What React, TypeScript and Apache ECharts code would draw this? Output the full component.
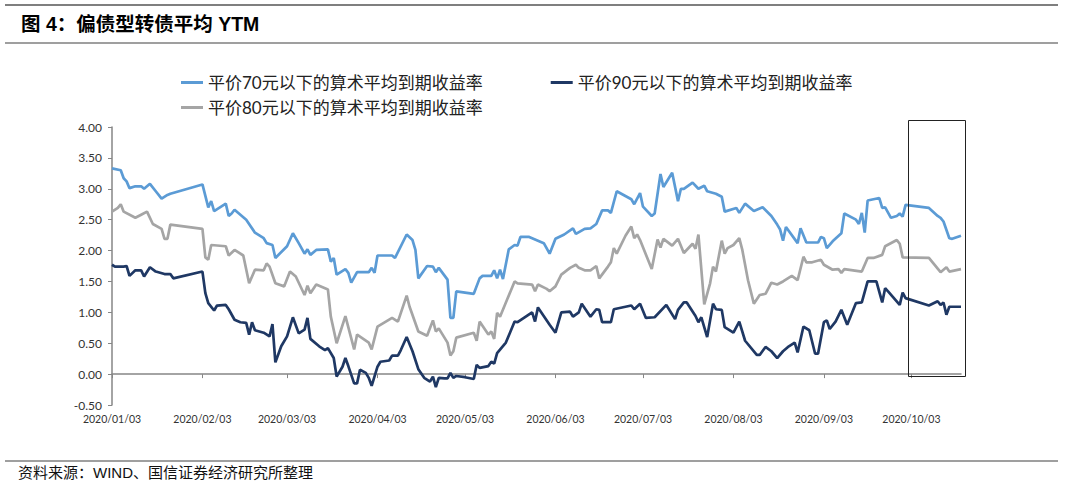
import React, { useEffect, useRef } from "react";
import * as echarts from "echarts";

const titleText = "图 4：偏债型转债平均 YTM";
const sourceText = "资料来源：WIND、国信证券经济研究所整理";

const seriesNames = [
  "平价70元以下的算术平均到期收益率",
  "平价90元以下的算术平均到期收益率",
  "平价80元以下的算术平均到期收益率",
];

const axisStart = "2020-01-03";
const axisEnd = "2020-10-20";
const tickDates = [
  "2020-01-03", "2020-02-03", "2020-03-03", "2020-04-03", "2020-05-03",
  "2020-06-03", "2020-07-03", "2020-08-03", "2020-09-03", "2020-10-03",
];
const yMin = -0.5;
const yMax = 4;
const yStep = 0.5;

const ytm70: [string, number][] = [
  ["2020-01-03", 3.33], ["2020-01-06", 3.30], ["2020-01-07", 3.17], ["2020-01-08", 3.12], ["2020-01-09", 3.01],
  ["2020-01-11", 3.04], ["2020-01-13", 3.04], ["2020-01-14", 3.00], ["2020-01-16", 3.08], ["2020-01-18", 2.96],
  ["2020-01-20", 2.84], ["2020-01-22", 2.90], ["2020-01-23", 2.92], ["2020-02-03", 3.07], ["2020-02-05", 2.70],
  ["2020-02-06", 2.80], ["2020-02-07", 2.64], ["2020-02-11", 2.76], ["2020-02-12", 2.56], ["2020-02-13", 2.60],
  ["2020-02-14", 2.66], ["2020-02-18", 2.50], ["2020-02-21", 2.29], ["2020-02-24", 2.20], ["2020-02-25", 2.12],
  ["2020-02-27", 2.09], ["2020-02-28", 1.88], ["2020-03-03", 2.07], ["2020-03-05", 2.28], ["2020-03-07", 2.12],
  ["2020-03-09", 1.95], ["2020-03-10", 2.02], ["2020-03-11", 1.93], ["2020-03-13", 2.01], ["2020-03-17", 2.02],
  ["2020-03-18", 1.82], ["2020-03-19", 1.88], ["2020-03-20", 1.61], ["2020-03-23", 1.70], ["2020-03-24", 1.64],
  ["2020-03-25", 1.48], ["2020-03-27", 1.65], ["2020-03-31", 1.65], ["2020-04-01", 1.72], ["2020-04-02", 1.64],
  ["2020-04-03", 1.92], ["2020-04-08", 1.92], ["2020-04-09", 1.88], ["2020-04-13", 2.26], ["2020-04-15", 2.17],
  ["2020-04-16", 2.01], ["2020-04-17", 1.55], ["2020-04-20", 1.75], ["2020-04-22", 1.74], ["2020-04-23", 1.65],
  ["2020-04-24", 1.72], ["2020-04-27", 1.53], ["2020-04-28", 0.91], ["2020-04-29", 0.91], ["2020-04-30", 1.34],
  ["2020-05-06", 1.30], ["2020-05-08", 1.55], ["2020-05-09", 1.59], ["2020-05-12", 1.59], ["2020-05-13", 1.68],
  ["2020-05-14", 1.55], ["2020-05-15", 1.69], ["2020-05-16", 1.54], ["2020-05-18", 2.02], ["2020-05-20", 2.09],
  ["2020-05-21", 2.08], ["2020-05-22", 2.22], ["2020-05-25", 2.22], ["2020-05-28", 2.16], ["2020-05-30", 2.12],
  ["2020-06-01", 1.95], ["2020-06-03", 2.19], ["2020-06-06", 2.26], ["2020-06-09", 2.36], ["2020-06-10", 2.27],
  ["2020-06-13", 2.35], ["2020-06-15", 2.36], ["2020-06-17", 2.43], ["2020-06-19", 2.65], ["2020-06-21", 2.65],
  ["2020-06-22", 2.61], ["2020-06-24", 2.96], ["2020-06-29", 2.83], ["2020-06-30", 2.75], ["2020-07-02", 2.93],
  ["2020-07-03", 2.71], ["2020-07-06", 2.56], ["2020-07-07", 2.60], ["2020-07-09", 3.24], ["2020-07-10", 3.03],
  ["2020-07-13", 3.26], ["2020-07-15", 2.80], ["2020-07-16", 3.00], ["2020-07-17", 3.00], ["2020-07-20", 3.10],
  ["2020-07-22", 3.00], ["2020-07-24", 3.05], ["2020-07-25", 2.96], ["2020-07-28", 2.92], ["2020-07-30", 2.87],
  ["2020-07-31", 2.63], ["2020-08-04", 2.69], ["2020-08-05", 2.61], ["2020-08-07", 2.76], ["2020-08-10", 2.64],
  ["2020-08-13", 2.70], ["2020-08-16", 2.56], ["2020-08-18", 2.42], ["2020-08-19", 2.34], ["2020-08-20", 2.16],
  ["2020-08-21", 2.38], ["2020-08-25", 2.12], ["2020-08-26", 2.36], ["2020-08-28", 2.13], ["2020-09-01", 2.13],
  ["2020-09-02", 2.22], ["2020-09-03", 2.20], ["2020-09-04", 2.04], ["2020-09-06", 2.15], ["2020-09-09", 2.28],
  ["2020-09-10", 2.60], ["2020-09-14", 2.50], ["2020-09-15", 2.43], ["2020-09-16", 2.61], ["2020-09-17", 2.29],
  ["2020-09-18", 2.81], ["2020-09-20", 2.83], ["2020-09-22", 2.85], ["2020-09-23", 2.69], ["2020-09-24", 2.70],
  ["2020-09-26", 2.53], ["2020-09-28", 2.56], ["2020-09-29", 2.60], ["2020-09-30", 2.55], ["2020-10-01", 2.74],
  ["2020-10-09", 2.69], ["2020-10-12", 2.56], ["2020-10-13", 2.53], ["2020-10-14", 2.47], ["2020-10-16", 2.20],
  ["2020-10-17", 2.19], ["2020-10-20", 2.24],
];

const ytm80: [string, number][] = [
  ["2020-01-03", 2.63], ["2020-01-05", 2.69], ["2020-01-06", 2.75], ["2020-01-07", 2.63], ["2020-01-11", 2.53],
  ["2020-01-13", 2.58], ["2020-01-15", 2.63], ["2020-01-17", 2.43], ["2020-01-20", 2.35], ["2020-01-21", 2.19],
  ["2020-01-22", 2.19], ["2020-01-23", 2.42], ["2020-02-03", 2.35], ["2020-02-04", 1.89], ["2020-02-05", 1.85],
  ["2020-02-06", 2.09], ["2020-02-11", 2.07], ["2020-02-12", 1.92], ["2020-02-14", 2.01], ["2020-02-17", 1.92],
  ["2020-02-19", 1.47], ["2020-02-21", 1.69], ["2020-02-24", 1.68], ["2020-02-25", 1.79], ["2020-02-26", 1.74],
  ["2020-02-28", 1.47], ["2020-03-02", 1.42], ["2020-03-04", 1.66], ["2020-03-06", 1.58], ["2020-03-09", 1.28],
  ["2020-03-10", 1.43], ["2020-03-11", 1.31], ["2020-03-13", 1.45], ["2020-03-17", 1.37], ["2020-03-18", 0.93],
  ["2020-03-20", 0.50], ["2020-03-23", 0.94], ["2020-03-26", 0.40], ["2020-03-27", 0.64], ["2020-03-31", 0.51],
  ["2020-04-01", 0.40], ["2020-04-03", 0.77], ["2020-04-08", 0.91], ["2020-04-10", 0.85], ["2020-04-13", 1.27],
  ["2020-04-14", 1.09], ["2020-04-17", 0.69], ["2020-04-20", 0.62], ["2020-04-22", 0.87], ["2020-04-23", 0.69],
  ["2020-04-24", 0.74], ["2020-04-27", 0.51], ["2020-04-28", 0.30], ["2020-04-29", 0.37], ["2020-04-30", 0.59],
  ["2020-05-06", 0.67], ["2020-05-07", 0.54], ["2020-05-08", 0.85], ["2020-05-11", 0.64], ["2020-05-12", 0.69],
  ["2020-05-13", 0.57], ["2020-05-14", 0.99], ["2020-05-15", 0.93], ["2020-05-20", 1.50], ["2020-05-21", 1.47],
  ["2020-05-26", 1.45], ["2020-05-27", 1.34], ["2020-05-28", 1.45], ["2020-05-31", 1.38], ["2020-06-01", 1.34],
  ["2020-06-03", 1.42], ["2020-06-05", 1.61], ["2020-06-08", 1.72], ["2020-06-10", 1.77], ["2020-06-11", 1.72],
  ["2020-06-13", 1.68], ["2020-06-15", 1.68], ["2020-06-17", 1.75], ["2020-06-18", 1.55], ["2020-06-21", 1.74],
  ["2020-06-22", 1.81], ["2020-06-23", 2.04], ["2020-06-24", 1.95], ["2020-06-27", 2.24], ["2020-06-29", 2.39],
  ["2020-06-30", 2.20], ["2020-07-01", 2.26], ["2020-07-02", 2.17], ["2020-07-06", 1.70], ["2020-07-08", 2.18],
  ["2020-07-09", 2.05], ["2020-07-10", 2.19], ["2020-07-13", 2.08], ["2020-07-15", 2.19], ["2020-07-17", 1.96],
  ["2020-07-20", 2.11], ["2020-07-21", 2.03], ["2020-07-22", 2.26], ["2020-07-24", 1.13], ["2020-07-26", 1.47],
  ["2020-07-27", 1.74], ["2020-07-28", 1.66], ["2020-07-30", 2.16], ["2020-07-31", 1.95], ["2020-08-01", 2.04],
  ["2020-08-03", 2.09], ["2020-08-05", 2.20], ["2020-08-06", 2.02], ["2020-08-08", 1.52], ["2020-08-10", 1.14],
  ["2020-08-12", 1.28], ["2020-08-14", 1.30], ["2020-08-16", 1.48], ["2020-08-18", 1.45], ["2020-08-20", 1.50],
  ["2020-08-23", 1.59], ["2020-08-25", 1.52], ["2020-08-27", 1.90], ["2020-08-28", 1.81], ["2020-08-30", 1.81],
  ["2020-09-02", 1.85], ["2020-09-03", 1.77], ["2020-09-06", 1.69], ["2020-09-08", 1.70], ["2020-09-09", 1.64],
  ["2020-09-10", 1.70], ["2020-09-16", 1.66], ["2020-09-18", 1.88], ["2020-09-20", 1.88], ["2020-09-23", 1.93],
  ["2020-09-24", 2.07], ["2020-09-28", 2.17], ["2020-09-29", 2.11], ["2020-09-30", 1.89], ["2020-10-09", 1.88],
  ["2020-10-13", 1.65], ["2020-10-15", 1.73], ["2020-10-16", 1.66], ["2020-10-20", 1.70],
];

const ytm90: [string, number][] = [
  ["2020-01-03", 1.77], ["2020-01-04", 1.74], ["2020-01-07", 1.74], ["2020-01-08", 1.75], ["2020-01-09", 1.59],
  ["2020-01-11", 1.68], ["2020-01-13", 1.68], ["2020-01-14", 1.58], ["2020-01-16", 1.73], ["2020-01-18", 1.66],
  ["2020-01-21", 1.62], ["2020-01-23", 1.62], ["2020-01-24", 1.55], ["2020-02-03", 1.66], ["2020-02-04", 1.31],
  ["2020-02-05", 1.15], ["2020-02-07", 1.03], ["2020-02-08", 1.11], ["2020-02-11", 1.12], ["2020-02-12", 1.05],
  ["2020-02-14", 0.88], ["2020-02-16", 0.84], ["2020-02-18", 0.83], ["2020-02-19", 0.64], ["2020-02-20", 0.84],
  ["2020-02-21", 0.71], ["2020-02-24", 0.67], ["2020-02-26", 0.61], ["2020-02-27", 0.81], ["2020-02-28", 0.19],
  ["2020-03-01", 0.45], ["2020-03-03", 0.61], ["2020-03-05", 0.92], ["2020-03-07", 0.66], ["2020-03-09", 0.72],
  ["2020-03-10", 0.91], ["2020-03-11", 0.57], ["2020-03-14", 0.45], ["2020-03-16", 0.39], ["2020-03-17", 0.42],
  ["2020-03-19", 0.26], ["2020-03-20", -0.04], ["2020-03-22", 0.12], ["2020-03-23", 0.26], ["2020-03-24", 0.13],
  ["2020-03-26", -0.15], ["2020-03-27", -0.15], ["2020-03-28", 0.07], ["2020-03-30", 0.02], ["2020-03-31", -0.06],
  ["2020-04-01", -0.19], ["2020-04-03", 0.12], ["2020-04-04", 0.20], ["2020-04-07", 0.22], ["2020-04-08", 0.30],
  ["2020-04-10", 0.30], ["2020-04-11", 0.39], ["2020-04-13", 0.60], ["2020-04-15", 0.37], ["2020-04-17", 0.08],
  ["2020-04-19", -0.06], ["2020-04-21", -0.12], ["2020-04-22", -0.04], ["2020-04-23", -0.21], ["2020-04-24", -0.06],
  ["2020-04-26", -0.07], ["2020-04-27", -0.07], ["2020-04-28", 0.02], ["2020-04-29", -0.06], ["2020-04-30", -0.03],
  ["2020-05-03", -0.05], ["2020-05-06", -0.08], ["2020-05-07", 0.15], ["2020-05-08", 0.10], ["2020-05-11", 0.13],
  ["2020-05-12", 0.20], ["2020-05-13", 0.17], ["2020-05-14", 0.34], ["2020-05-17", 0.51], ["2020-05-20", 0.85],
  ["2020-05-21", 0.84], ["2020-05-26", 1.00], ["2020-05-27", 0.85], ["2020-05-28", 1.08], ["2020-06-01", 0.80],
  ["2020-06-03", 0.67], ["2020-06-05", 1.00], ["2020-06-08", 1.01], ["2020-06-09", 0.93], ["2020-06-11", 1.00],
  ["2020-06-12", 1.14], ["2020-06-15", 0.93], ["2020-06-17", 1.05], ["2020-06-18", 1.04], ["2020-06-19", 0.84],
  ["2020-06-22", 0.84], ["2020-06-23", 1.05], ["2020-06-29", 1.11], ["2020-06-30", 1.05], ["2020-07-02", 1.14],
  ["2020-07-04", 0.91], ["2020-07-07", 0.92], ["2020-07-11", 1.12], ["2020-07-14", 0.89], ["2020-07-15", 1.04],
  ["2020-07-17", 1.16], ["2020-07-18", 1.16], ["2020-07-21", 0.94], ["2020-07-22", 0.84], ["2020-07-23", 0.92],
  ["2020-07-25", 0.60], ["2020-07-27", 1.14], ["2020-07-28", 1.05], ["2020-07-30", 1.04], ["2020-07-31", 0.76],
  ["2020-08-03", 0.67], ["2020-08-05", 0.85], ["2020-08-07", 0.54], ["2020-08-11", 0.31], ["2020-08-12", 0.31],
  ["2020-08-14", 0.44], ["2020-08-16", 0.37], ["2020-08-18", 0.26], ["2020-08-20", 0.37], ["2020-08-22", 0.45],
  ["2020-08-24", 0.51], ["2020-08-25", 0.35], ["2020-08-27", 0.77], ["2020-08-29", 0.71], ["2020-08-31", 0.33],
  ["2020-09-01", 0.33], ["2020-09-03", 0.84], ["2020-09-04", 0.87], ["2020-09-05", 0.73], ["2020-09-07", 0.85],
  ["2020-09-09", 1.04], ["2020-09-11", 0.80], ["2020-09-14", 1.15], ["2020-09-16", 1.16], ["2020-09-18", 1.50],
  ["2020-09-21", 1.50], ["2020-09-23", 1.16], ["2020-09-24", 1.39], ["2020-09-25", 1.34], ["2020-09-29", 1.12],
  ["2020-09-30", 1.32], ["2020-10-01", 1.23], ["2020-10-09", 1.11], ["2020-10-12", 1.18], ["2020-10-13", 1.12],
  ["2020-10-14", 1.16], ["2020-10-15", 0.96], ["2020-10-16", 1.09], ["2020-10-20", 1.09],
];

const colors = ["#5b9bd5", "#1f3864", "#a5a5a5"];

const toTs = (s: string) => {
  const [y, m, d] = s.split("-").map(Number);
  return Date.UTC(y, m - 1, d);
};
const pad = (n: number) => String(n).padStart(2, "0");
const fmtDate = (v: number) => {
  const d = new Date(v);
  return `${d.getUTCFullYear()}/${pad(d.getUTCMonth() + 1)}/${pad(d.getUTCDate())}`;
};

const latin = "Lato, 'Noto Sans CJK SC', sans-serif";
const cjk = "'Liberation Sans', 'Noto Sans CJK SC', sans-serif";

function buildOption(): any {
  const xMin = toTs(axisStart);
  const xMax = toTs(axisEnd);
  const ticks = tickDates.map(toTs);
  const dataSets = [ytm70, ytm90, ytm80];
  const axisColor = "#868686";
  const legendText = { fontSize: 17, color: "#222", fontFamily: latin };
  return {
    animation: false,
    backgroundColor: "#ffffff",
    grid: { left: 112, right: 119, top: 127, bottom: 81, containLabel: false },
    legend: [
      {
        data: [seriesNames[0], seriesNames[1]],
        left: 176,
        top: 69,
        icon: "rect",
        itemWidth: 22,
        itemHeight: 3,
        itemGap: 68,
        textStyle: legendText,
      },
      {
        data: [seriesNames[2]],
        left: 176,
        top: 94,
        icon: "rect",
        itemWidth: 22,
        itemHeight: 3,
        textStyle: legendText,
      },
    ],
    xAxis: [
      {
        type: "value",
        min: xMin,
        max: xMax,
        position: "bottom",
        axisLine: { show: true, onZero: true, lineStyle: { color: axisColor, width: 1.5 } },
        axisTick: { show: true, customValues: ticks, length: 4, lineStyle: { color: axisColor } },
        axisLabel: { show: false },
        splitLine: { show: false },
      },
      {
        type: "value",
        min: xMin,
        max: xMax,
        position: "bottom",
        axisLine: { show: false, onZero: false },
        axisTick: { show: false },
        axisLabel: {
          show: true,
          customValues: ticks,
          formatter: (v: number) => fmtDate(v),
          margin: 9,
          fontSize: 10.5,
          color: "#333",
          fontFamily: latin,
        },
        splitLine: { show: false },
      },
    ],
    yAxis: {
      type: "value",
      min: yMin,
      max: yMax,
      interval: yStep,
      axisLine: { show: true, onZero: false, lineStyle: { color: axisColor, width: 1.5 } },
      axisTick: { show: true, length: 4, lineStyle: { color: axisColor } },
      axisLabel: {
        formatter: (v: number) => v.toFixed(2),
        margin: 10,
        fontSize: 12,
        color: "#333",
        fontFamily: latin,
      },
      splitLine: { show: false },
    },
    series: dataSets.map((ds, i) => ({
      name: seriesNames[i],
      type: "line",
      xAxisIndex: 0,
      yAxisIndex: 0,
      showSymbol: false,
      symbol: "none",
      color: colors[i],
      itemStyle: { color: colors[i] },
      lineStyle: { color: colors[i], width: 2.7 },
      data: ds.map(([d, v]) => [toTs(d), v]),
    })),
    graphic: [
      { type: "line", shape: { x1: 5, y1: 5, x2: 1058, y2: 5 }, style: { stroke: "#7f7f7f", lineWidth: 2 } },
      { type: "line", shape: { x1: 5, y1: 43, x2: 1058, y2: 43 }, style: { stroke: "#7f7f7f", lineWidth: 1.5 } },
      {
        type: "text",
        x: 21,
        y: 24,
        style: {
          text: titleText,
          font: `bold 19.5px ${cjk}`,
          fill: "#000",
          verticalAlign: "middle",
        },
      },
      { type: "line", shape: { x1: 5, y1: 461, x2: 1058, y2: 461 }, style: { stroke: "#7f7f7f", lineWidth: 1.5 } },
      {
        type: "text",
        x: 18,
        y: 472,
        style: {
          text: sourceText,
          font: `15px ${cjk}`,
          fill: "#111",
          verticalAlign: "middle",
        },
      },
      {
        type: "rect",
        shape: { x: 908.5, y: 120.5, width: 57, height: 256 },
        style: { fill: "none", stroke: "#222", lineWidth: 1 },
        z: 10,
      },
    ],
  };
}

export default function App() {
  const ref = useRef<HTMLDivElement>(null);
  useEffect(() => {
    if (!ref.current) return;
    const chart = echarts.init(ref.current, null, { renderer: "svg" });
    chart.setOption(buildOption());
    return () => chart.dispose();
  }, []);
  return (
    <div
      ref={ref}
      style={{ position: "absolute", left: 0, top: 0, width: 1080, height: 486, background: "#fff" }}
    />
  );
}
